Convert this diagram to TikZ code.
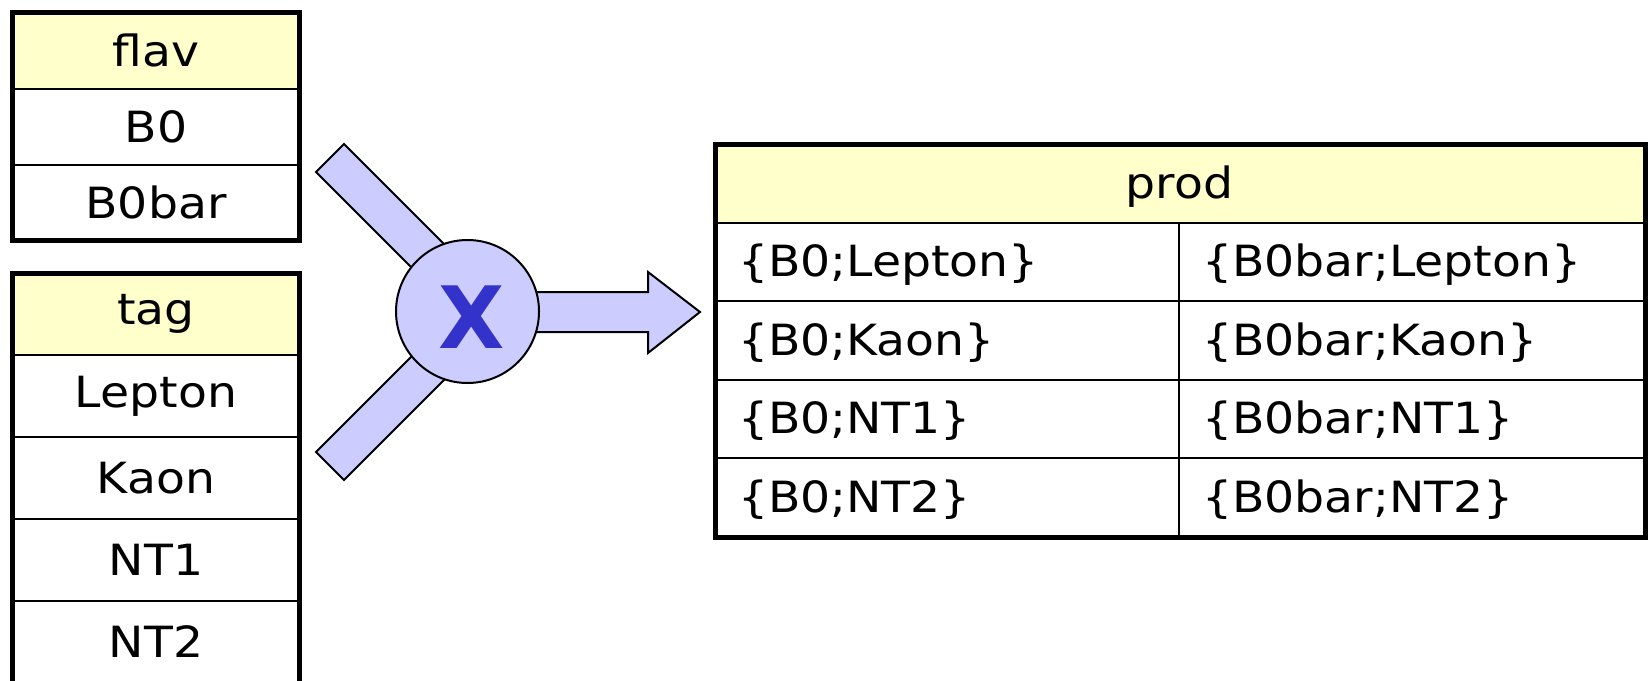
\documentclass[tikz,border=0pt]{standalone}
\usepackage{fontspec}
\setmainfont{DejaVu Sans}[FakeStretch=1.1]
\newfontfamily\markfont{DejaVu Sans}
\usetikzlibrary{positioning}
\definecolor{hdryellow}{HTML}{FFFFCC}
\definecolor{barblue}{HTML}{CCCCFF}
\definecolor{xblue}{HTML}{3333CC}
\tikzset{
  cell/.style={draw,line width=1pt,inner sep=0pt,outer sep=0pt,anchor=north west},
  hdr/.style={cell,fill=hdryellow},
  frame/.style={draw,line width=2.5pt},
  shape blue/.style={draw,line width=1pt,fill=barblue},
  pcell/.style={cell,minimum height=39.3pt,text width=209pt,inner xsep=11.5pt,align=left,text depth=0.15em}
}

\begin{document}
\begin{tikzpicture}[x=0.5pt,y=-0.5pt,font=\fontsize{21.5}{25}\selectfont]
\useasboundingbox (0,0) rectangle (1649,680);
% flav table
\node[hdr,minimum width=143.5pt,minimum height=38pt](flav)at(12.5,12.5){flav};
\foreach \v [count=\i] in {B0,B0bar}
  \node[cell,minimum width=143.5pt,minimum height=38pt](flav\i)at(12.5,{12.5+76*\i}){\v};
\draw[frame](flav.north west) rectangle (flav2.south east);
% tag table
\node[hdr,minimum width=143.5pt,minimum height=41pt](tag)at(12.5,273){tag};
\foreach \v [count=\i] in {Lepton,Kaon,NT1,NT2}
  \node[cell,minimum width=143.5pt,minimum height=41pt](tag\i)at(12.5,{273+82*\i}){\v};
\draw[frame](tag.north west) rectangle (tag4.south east);
% product symbol
\draw[shape blue](316,172)--(344,144)--(474,274)--(446,302)--cycle;
\draw[shape blue](316,452)--(344,480)--(474,350)--(446,322)--cycle;
\draw[shape blue](467.5,292)--(648,292)--(648,272)--(700,312)--(648,353)--(648,332)--(467.5,332)--cycle;
\node[circle,draw,line width=1pt,fill=barblue,minimum size=71.5pt,inner sep=0pt](mult)at(467.5,311.5){};
\node[text=xblue,font=\markfont\fontsize{43}{43}\selectfont\bfseries](multx)at(472,317){X};
% prod table
\node[hdr,minimum width=464.5pt,minimum height=39.5pt,text depth=0.1em](prod)at(715,144){prod};
\foreach \t [count=\i] in {Lepton,Kaon,NT1,NT2}{
  \node[pcell](pa\i)at(715,{144+78.6*\i}){\{B0;\t\}};
  \node[pcell,text width=210pt](pb\i)at(1179,{144+78.6*\i}){\{B0bar;\t\}};
}
\draw[frame](prod.north west) rectangle (pb4.south east);
\end{tikzpicture}
\end{document}
